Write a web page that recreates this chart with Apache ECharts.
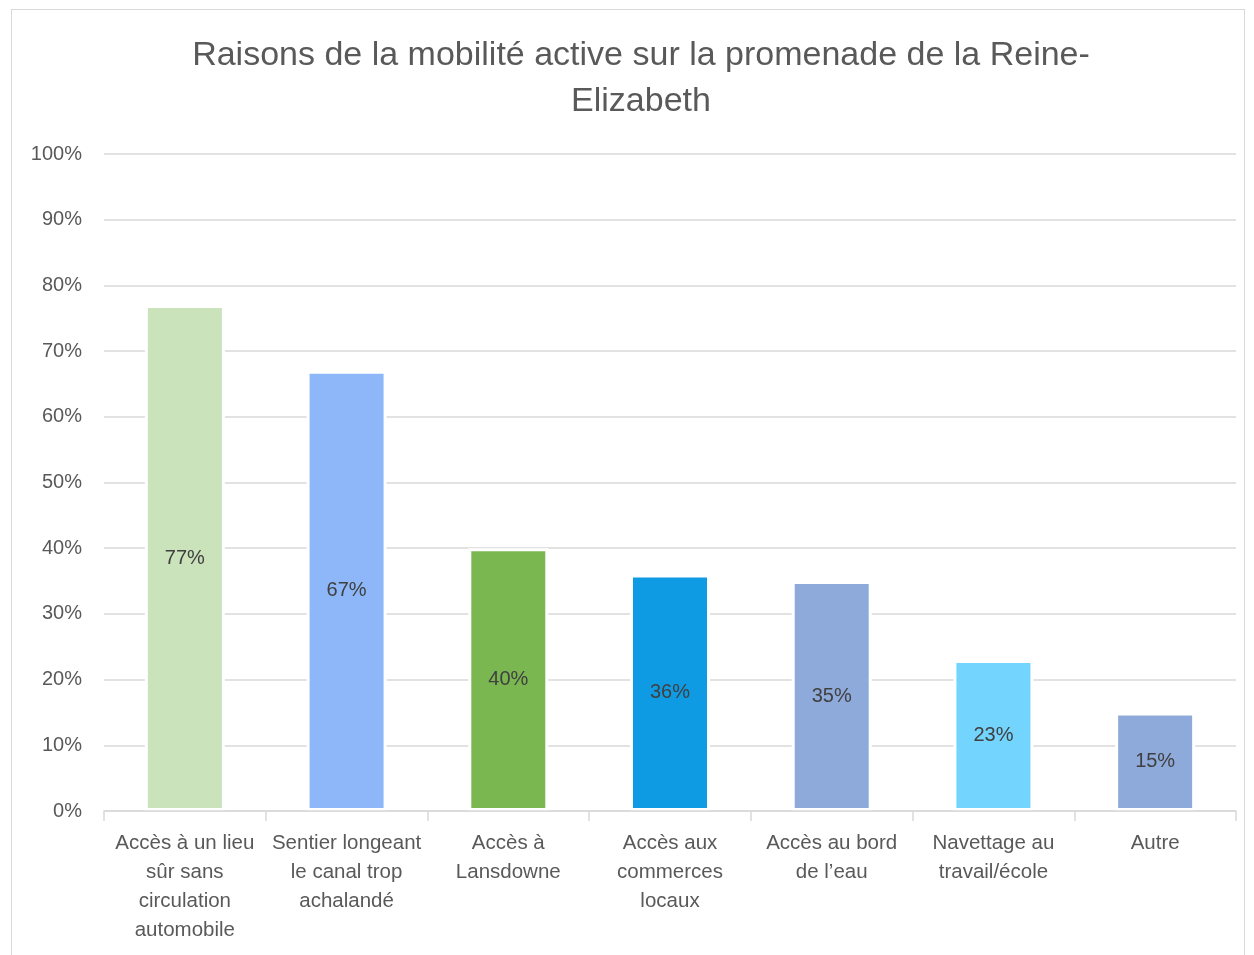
<!DOCTYPE html>
<html>
<head>
<meta charset="utf-8">
<script src="https://cdn.jsdelivr.net/npm/echarts@6/dist/echarts.min.js"></script>
<style>
  html, body { margin: 0; padding: 0; background: #fff; }
  #frame {
    position: absolute; left: 11px; top: 9px; width: 1234px; height: 950px;
    border: 1px solid #d9d9d9; box-sizing: border-box;
  }
  #chart { position: absolute; left: 0; top: 0; width: 1254px; height: 955px; }
</style>
</head>
<body>
<div id="frame"></div>
<div id="chart"></div>
<script>
const categories = [
  "Accès à un lieu\nsûr sans\ncirculation\nautomobile",
  "Sentier longeant\nle canal trop\nachalandé",
  "Accès à\nLansdowne",
  "Accès aux\ncommerces\nlocaux",
  "Accès au bord\nde l’eau",
  "Navettage au\ntravail/école",
  "Autre"
];
const values = [77, 67, 40, 36, 35, 23, 15];
const barColors = ["#CAE3BA", "#8DB7F9", "#7AB751", "#0E9BE3", "#8EAADB", "#73D4FD", "#8EAADB"];
const yTicks = [0, 10, 20, 30, 40, 50, 60, 70, 80, 90, 100];

const font = "Liberation Sans";
const eChart = echarts.init(document.getElementById("chart"));
const option = {
  animation: false,
  title: {
    text: "Raisons de la mobilité active sur la promenade de la Reine-\nElizabeth",
    left: 636,
    textAlign: "center",
    top: 28,
    textStyle: {
      color: "#595959",
      fontFamily: font,
      fontWeight: "normal",
      fontSize: 34,
      lineHeight: 46
    }
  },
  grid: {
    left: 104,
    right: 18,
    top: 154,
    bottom: 144,
    containLabel: false
  },
  xAxis: {
    type: "category",
    data: categories,
    z: 5,
    axisLine: { lineStyle: { color: "#d9d9d9", width: 1.5 } },
    axisTick: { show: true, length: 10, lineStyle: { color: "#d9d9d9", width: 1.5 } },
    axisLabel: {
      color: "#595959",
      fontFamily: font,
      fontSize: 20.5,
      lineHeight: 29,
      margin: 18,
      interval: 0
    }
  },
  yAxis: {
    type: "value",
    min: yTicks[0],
    max: yTicks[yTicks.length - 1],
    interval: 10,
    axisLine: { show: false },
    axisTick: { show: false },
    splitLine: { lineStyle: { color: "#d9d9d9", width: 1.5 } },
    axisLabel: {
      color: "#595959",
      fontFamily: font,
      fontSize: 20,
      margin: 22,
      formatter: "{value}%"
    }
  },
  series: [{
    type: "bar",
    barWidth: 80,
    data: values.map((v, i) => ({
      value: v,
      itemStyle: { color: barColors[i] }
    })),
    itemStyle: { borderColor: "#ffffff", borderWidth: 3 },
    label: {
      show: true,
      position: "inside",
      color: "#404040",
      fontFamily: font,
      fontSize: 20,
      formatter: "{c}%"
    }
  }]
};
eChart.setOption(option);
</script>
</body>
</html>
